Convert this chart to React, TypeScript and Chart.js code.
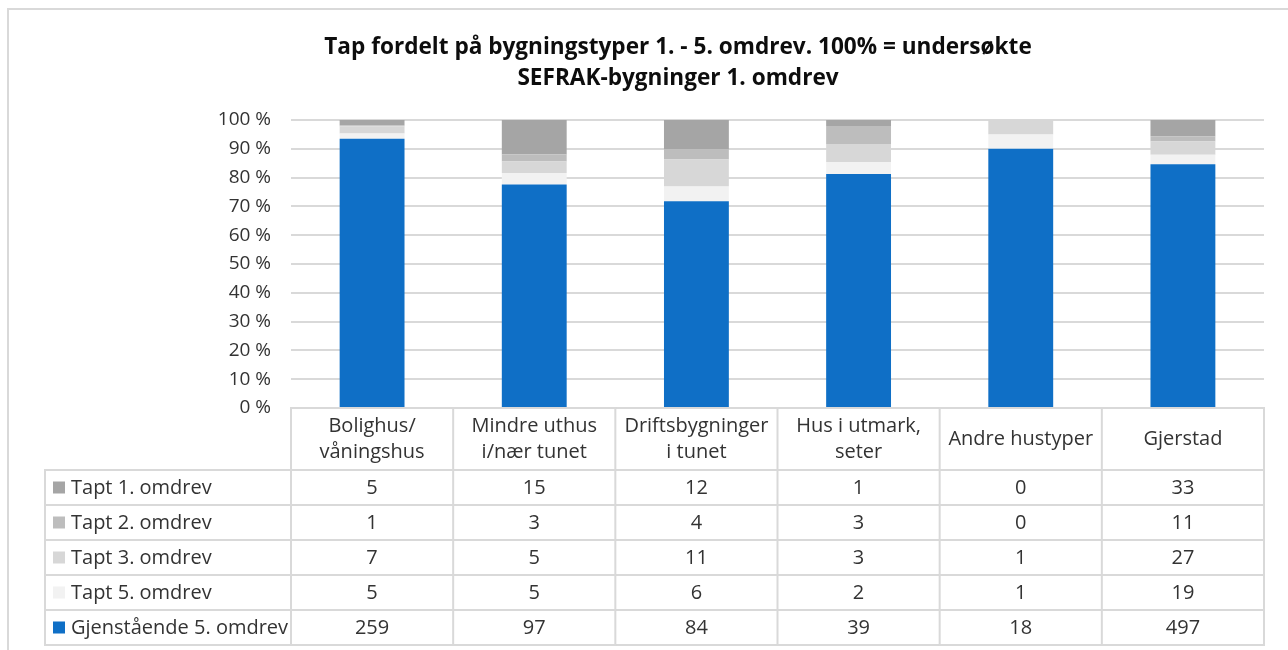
import { useEffect, useRef } from 'react';
import { Chart, registerables } from 'chart.js';

Chart.register(...registerables);

const titleLines = ['Tap fordelt på bygningstyper 1. - 5. omdrev. 100% = undersøkte', 'SEFRAK-bygninger 1. omdrev'];
const categories = [
  ['Bolighus/', 'våningshus'],
  ['Mindre uthus', 'i/nær tunet'],
  ['Driftsbygninger', 'i tunet'],
  ['Hus i utmark,', 'seter'],
  ['Andre hustyper'],
  ['Gjerstad'],
];
const seriesNames = ['Tapt 1. omdrev', 'Tapt 2. omdrev', 'Tapt 3. omdrev', 'Tapt 5. omdrev', 'Gjenstående 5. omdrev'];
const tapt1 = [5, 15, 12, 1, 0, 33];
const tapt2 = [1, 3, 4, 3, 0, 11];
const tapt3 = [7, 5, 11, 3, 1, 27];
const tapt5 = [5, 5, 6, 2, 1, 19];
const gjenstaende = [259, 97, 84, 39, 18, 497];
const seriesColors = ['#A5A5A5', '#BDBDBD', '#D7D7D7', '#F2F2F2', '#0F6FC6'];
const yTickStep = 10;

const FONT = '"Open Sans", "Noto Sans", sans-serif';
const TEXT = '#333333';
const LINE = '#D9D9D9';

const tableRows = [tapt1, tapt2, tapt3, tapt5, gjenstaende];
const totals = categories.map((_, i) => tableRows.reduce((s, r) => s + r[i], 0));
const pct = (arr: number[]) => arr.map((v, i) => (v / totals[i]) * 100);

const PAD_LEFT = 92;

const tablePlugin = {
  id: 'dataTable',
  beforeDraw(chart: any) {
    const ctx = chart.ctx;
    ctx.save();
    ctx.fillStyle = '#ffffff';
    ctx.fillRect(0, 0, chart.width, chart.height);
    ctx.fillStyle = LINE;
    ctx.fillRect(7, 8, chart.width - 7, 2);
    ctx.fillRect(7, 8, 2, chart.height - 8);
    ctx.restore();
  },
  afterDraw(chart: any) {
    const ctx = chart.ctx;
    const area = chart.chartArea;
    const xs = chart.scales.x;
    const n = categories.length;
    const colW = (area.right - area.left) / n;
    const headerTop = area.bottom;
    const headerH = 62;
    const rowH = 35;
    const legendLeft = 45;
    const rowsTop = headerTop + headerH;
    const nRows = seriesNames.length;
    const bottom = rowsTop + rowH * nRows;
    ctx.save();
    ctx.fillStyle = LINE;
    ctx.fillRect(area.left - 1, headerTop - 1, area.right - area.left + 2, 2);
    for (let r = 0; r <= nRows; r++) {
      const y = rowsTop + r * rowH;
      ctx.fillRect(legendLeft - 1, y - 1, area.right - legendLeft + 2, 2);
    }
    for (let c = 0; c <= n; c++) {
      const x = area.left + c * colW;
      ctx.fillRect(x - 1, headerTop - 1, 2, bottom - headerTop + 2);
    }
    ctx.fillRect(legendLeft - 1, rowsTop - 1, 2, bottom - rowsTop + 2);

    ctx.fillStyle = TEXT;
    ctx.font = `20px ${FONT}`;
    ctx.textAlign = 'center';
    ctx.textBaseline = 'middle';
    categories.forEach((lines, i) => {
      const cx = xs.getPixelForValue(i);
      const lh = 26;
      const cy = headerTop + headerH / 2;
      lines.forEach((t, k) => {
        ctx.fillText(t, cx, cy + (k - (lines.length - 1) / 2) * lh);
      });
    });
    const ds = chart.data.datasets.slice().reverse();
    ds.forEach((d: any, r: number) => {
      const cy = rowsTop + r * rowH + rowH / 2;
      ctx.fillStyle = d.backgroundColor;
      ctx.fillRect(53, cy - 6, 12, 12);
      ctx.fillStyle = TEXT;
      ctx.textAlign = 'left';
      ctx.fillText(d.label, 71, cy + 1);
      ctx.textAlign = 'center';
      d.counts.forEach((v: number, i: number) => {
        ctx.fillText(String(v), xs.getPixelForValue(i), cy + 1);
      });
    });
    ctx.restore();
  },
};

export default function App() {
  const ref = useRef<HTMLCanvasElement>(null);
  useEffect(() => {
    if (!ref.current) return;
    const datasets = [4, 3, 2, 1, 0].map((k) => ({
      label: seriesNames[k],
      data: pct(tableRows[k]),
      counts: tableRows[k],
      backgroundColor: seriesColors[k],
      borderWidth: 0,
      categoryPercentage: 1,
      barPercentage: 0.4,
    }));
    const chart = new Chart(ref.current, {
      type: 'bar',
      data: { labels: categories.map((c) => c.join(' ')), datasets: datasets as any },
      options: {
        animation: false,
        responsive: false,
        devicePixelRatio: 1,
        layout: { padding: { left: PAD_LEFT, right: 24, top: 0, bottom: 242 } },
        plugins: {
          legend: { display: false },
          tooltip: { enabled: false },
          title: {
            display: true,
            text: titleLines,
            color: '#0d0d0d',
            font: { family: FONT, size: 22.6, weight: 'bold', lineHeight: 31 / 22.6 },
            padding: { top: 32, bottom: 26 },
          },
        },
        scales: {
          x: {
            stacked: true,
            display: false,
          },
          y: {
            stacked: true,
            min: 0,
            max: 100,
            border: { display: false },
            grid: { color: LINE, lineWidth: 2, drawTicks: false },
            ticks: {
              stepSize: yTickStep,
              padding: 20,
              color: TEXT,
              font: { family: FONT, size: 19 },
              callback: (v: any) => `${v} %`,
            },
            afterFit: (scale: any) => {
              scale.width = 291 - PAD_LEFT;
            },
          },
        },
      },
      plugins: [tablePlugin],
    });
    return () => chart.destroy();
  }, []);
  return (
    <div style={{ position: 'absolute', left: 0, top: 0, width: 1288, height: 650 }}>
      <canvas ref={ref} width={1288} height={650} />
    </div>
  );
}
